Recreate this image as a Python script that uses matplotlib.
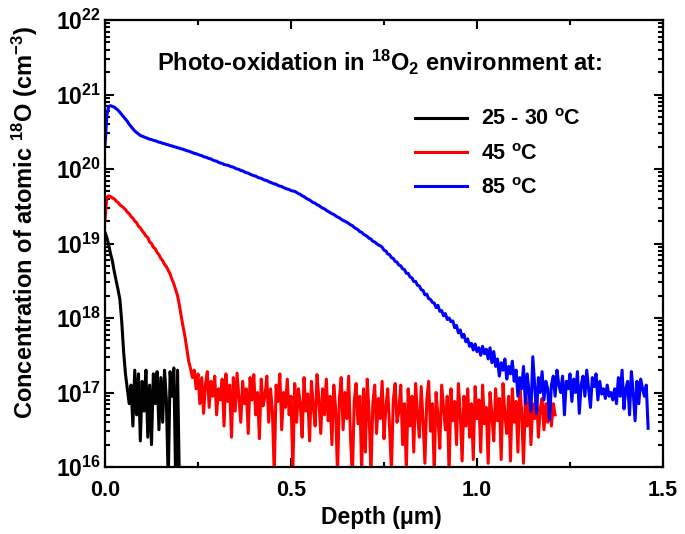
import numpy as np
import matplotlib as mpl
mpl.use("Agg")
import matplotlib.pyplot as plt
from matplotlib.ticker import MultipleLocator, FixedLocator, FuncFormatter, NullFormatter

plt.rcParams['font.family'] = ['Liberation Sans', 'DejaVu Sans']
plt.rcParams['font.weight'] = 'bold'
plt.rcParams['mathtext.fontset'] = 'custom'
plt.rcParams['mathtext.rm'] = 'Liberation Sans:bold'
plt.rcParams['mathtext.it'] = 'Liberation Sans:bold'
plt.rcParams['mathtext.bf'] = 'Liberation Sans:bold'

# depth grid of the SIMS profiles (um), 0.005 um per point
step = 0.005

# decades shown on the y axis
decades = [16, 17, 18, 19, 20, 21, 22]

# log10 of 18O concentration (cm^-3)
black_log = [
    19.15, 19.08, 18.98, 18.86, 18.76, 18.62, 18.50, 18.38, 18.25, 17.95,
    17.55, 17.25, 17.05, 16.85, 17.10, 16.55, 17.30, 16.70, 17.25, 16.35,
    17.15, 16.75, 17.30, 16.40, 17.10, 16.30, 17.25, 16.85, 17.28, 16.50,
    17.20, 16.60, 17.30, 16.90, 15.80, 17.28, 16.95, 17.33, 15.80, 17.30,
    15.80,
]

red_log = [
    19.32, 19.62, 19.64, 19.63, 19.61, 19.60, 19.57, 19.55, 19.52, 19.50,
    19.48, 19.455, 19.42, 19.40, 19.36, 19.34, 19.30, 19.28, 19.23, 19.21,
    19.17, 19.14, 19.10, 19.08, 19.02, 19.00, 18.95, 18.93, 18.88, 18.85,
    18.80, 18.77, 18.72, 18.69, 18.64, 18.59, 18.52, 18.46, 18.38, 18.30,
    18.17, 18.02, 17.88, 17.75, 17.58, 17.42, 17.32, 17.20, 17.30,
    17.05, 17.25, 16.85, 17.20, 16.72, 17.10, 17.28, 16.80, 17.15, 16.95,
    17.22, 16.70, 17.05, 16.90, 17.18, 16.55, 17.25, 16.88, 17.10, 16.40,
    17.20, 16.75, 17.26, 16.92, 16.60, 17.15, 16.85, 17.05, 16.45, 17.20,
    16.90, 17.24, 16.70, 17.00, 16.38, 17.18, 16.82, 16.95, 17.22, 16.60,
    17.05, 16.75, 15.90, 17.10, 16.88, 17.25, 16.50, 17.00, 16.80, 17.18,
    16.70, 16.95, 15.95, 17.12, 16.60, 17.05, 16.85, 16.40, 17.20, 16.75,
    16.98, 16.35, 17.15, 16.80, 16.55, 17.24, 16.90, 16.45, 17.05, 16.70,
    17.18, 16.62, 16.95, 16.30, 17.10, 16.78, 15.90, 16.92, 17.20, 16.50,
    17.00, 16.65, 17.22, 16.40, 15.85, 16.88, 17.12, 16.58, 16.95, 15.95,
    17.05, 16.20, 17.18, 16.70, 15.90, 16.85, 17.10, 16.45, 16.92, 16.65,
    17.15, 16.38, 16.80, 17.05, 16.52, 15.95, 16.90, 17.12, 16.60, 16.75,
    17.10, 16.30, 16.85, 15.95, 17.05, 16.55, 16.95, 16.20, 17.12, 16.70,
    16.40, 17.08, 16.62, 16.05, 16.90, 17.15, 16.48, 16.85, 15.92, 17.00,
    16.68, 16.25, 17.10, 16.80, 16.50, 16.95, 15.90, 17.05, 16.62, 16.88,
    16.30, 17.12, 16.72, 16.08, 16.95, 16.55, 17.05, 16.40, 16.85, 16.10,
    17.08, 16.65, 16.90, 16.20, 17.10, 16.58, 16.80, 16.05, 17.00, 16.70,
    16.35, 17.05, 16.62, 16.92, 16.10, 17.12, 16.70, 16.45, 16.95, 16.08,
    17.05, 16.60, 16.88, 16.20, 17.10, 16.75, 16.05, 16.90, 16.55, 17.00,
    16.30, 16.85, 16.65, 17.02, 16.40, 16.78, 16.92, 16.50, 16.85, 16.60,
    16.95, 16.55, 16.85, 16.70,
]

blue_log = [
    20.32, 20.72, 20.84, 20.85, 20.84, 20.83, 20.81, 20.79, 20.76, 20.73,
    20.70, 20.67, 20.64, 20.60, 20.57, 20.54, 20.51, 20.49, 20.47, 20.45,
    20.44, 20.43, 20.42, 20.41, 20.40, 20.395, 20.385, 20.38, 20.37, 20.36,
    20.355, 20.345, 20.34, 20.33, 20.325, 20.315, 20.31, 20.30, 20.295, 20.285,
    20.28, 20.27, 20.265, 20.255, 20.245, 20.24, 20.23, 20.22, 20.21, 20.205,
    20.195, 20.185, 20.18, 20.165, 20.16, 20.15, 20.14, 20.135, 20.12, 20.11,
    20.105, 20.09, 20.08, 20.075, 20.06, 20.055, 20.05, 20.04, 20.03, 20.025,
    20.01, 20.00, 19.995, 19.98, 19.975, 19.96, 19.95, 19.945, 19.93, 19.92,
    19.91, 19.905, 19.89, 19.88, 19.875, 19.86, 19.85, 19.845, 19.83, 19.82,
    19.81, 19.80, 19.795, 19.78, 19.77, 19.765, 19.75, 19.74, 19.73, 19.725,
    19.71, 19.705, 19.70, 19.685, 19.67, 19.66, 19.64, 19.63, 19.61, 19.595,
    19.585, 19.565, 19.55, 19.54, 19.52, 19.51, 19.49, 19.475, 19.465, 19.445,
    19.43, 19.415, 19.40, 19.39, 19.37, 19.355, 19.345, 19.325, 19.31, 19.30,
    19.285, 19.27, 19.25, 19.24, 19.215, 19.20, 19.185, 19.16, 19.15, 19.125,
    19.11, 19.095, 19.07, 19.06, 19.03, 19.02, 19.00, 18.98, 18.97, 18.95,
    18.91, 18.90, 18.86, 18.85, 18.81, 18.80, 18.76, 18.75, 18.71, 18.70,
    18.66, 18.65, 18.60, 18.60, 18.55, 18.54, 18.49, 18.49, 18.44, 18.43,
    18.38, 18.37, 18.31, 18.32, 18.26, 18.25, 18.21, 18.20, 18.14, 18.17,
    18.09, 18.10, 18.03, 18.06, 17.98, 18.00, 17.95, 17.96, 17.87, 17.90,
    17.80, 17.84, 17.74, 17.78, 17.68, 17.72, 17.62, 17.66, 17.57, 17.65,
    17.55, 17.60, 17.50, 17.62, 17.52, 17.58, 17.45, 17.60, 17.40, 17.55,
    17.35, 17.45, 17.22, 17.40, 17.30, 17.45, 17.18, 17.35, 17.25, 17.42,
    17.15, 17.30, 16.95, 17.20, 17.05, 17.35, 16.85, 17.25, 17.00, 16.75,
    17.48, 17.10, 16.72, 17.20, 17.00, 17.28, 16.90, 17.15, 17.05, 16.63,
    17.10, 17.22, 16.95, 17.30, 17.10, 17.00, 17.22, 16.70, 17.15, 17.05,
    17.25, 16.88, 17.18, 17.00, 17.28, 16.72, 17.10, 17.22, 16.95, 17.30,
    17.05, 16.80, 17.20, 17.08, 17.25, 16.90, 17.15, 16.98, 17.05, 16.92,
    17.10, 16.95, 17.00, 16.90, 17.05, 16.85, 17.20, 16.95, 17.30, 16.78,
    17.05, 17.15, 16.70, 17.28, 17.00, 16.62, 17.15, 16.85, 17.18, 17.05,
    16.95, 17.10, 16.52,
]

series = [
    (black_log, 'black', '25 - 30 $^{\\rm o}$C'),
    (red_log, '#ff0000', '45 $^{\\rm o}$C'),
    (blue_log, '#0000ff', '85 $^{\\rm o}$C'),
]

fig = plt.figure(figsize=(6.85, 5.34), dpi=100)
ax = fig.add_axes([105/685, 1 - 467/534, 558/685, 447/534])

for vals, col, lab in series:
    depth = np.arange(len(vals)) * step
    ax.plot(depth, 10.0 ** np.asarray(vals), color=col, lw=2.2, label=lab)

ax.set_yscale('log')
ax.set_xlim(0, 1.5)
ax.set_ylim(10.0 ** decades[0], 10.0 ** decades[-1])

ax.xaxis.set_major_locator(MultipleLocator(0.5))
ax.xaxis.set_minor_locator(MultipleLocator(0.25))
ax.xaxis.set_major_formatter(FuncFormatter(lambda v, p: '%.1f' % v))

major_y = [10.0 ** d for d in decades]
minor_y = [m * 10.0 ** d for d in decades[:-1] for m in range(2, 10)]
ax.yaxis.set_major_locator(FixedLocator(major_y))
ax.yaxis.set_minor_locator(FixedLocator(minor_y))
ax.yaxis.set_minor_formatter(NullFormatter())
ax.yaxis.set_major_formatter(FuncFormatter(lambda v, p: '10$^{%d}$' % round(np.log10(v))))

ax.tick_params(which='both', direction='in', top=True, right=True, width=1.5)
ax.tick_params(which='major', length=6.5)
ax.tick_params(which='minor', length=3.5)
ax.tick_params(axis='x', which='major', pad=9, labelsize=15.5)
ax.tick_params(axis='y', which='major', pad=3, labelsize=16.5)
for s in ax.spines.values():
    s.set_linewidth(1.6)

ax.set_xlabel('Depth (\u03bcm)', fontsize=16.5, fontweight='bold', va='top')
ax.xaxis.set_label_coords(0.496, -0.088)
ax.set_ylabel('Concentration of atomic $^{18}$O (cm$^{-3}$)', fontsize=17,
              fontweight='bold')
ax.yaxis.set_label_coords(-0.116, 0.546)

ax.text(0.093, 0.905, 'Photo-oxidation in $^{18}$O$_2$ environment at:',
        transform=ax.transAxes, fontsize=17, fontweight='bold', va='center')

ax.legend(loc='upper left', bbox_to_anchor=(0.555, 0.80), frameon=False,
          fontsize=15.5, handlelength=2.45, handletextpad=0.65, labelspacing=0.61,
          borderpad=0, borderaxespad=0)

fig.savefig('out.png', dpi=100)
